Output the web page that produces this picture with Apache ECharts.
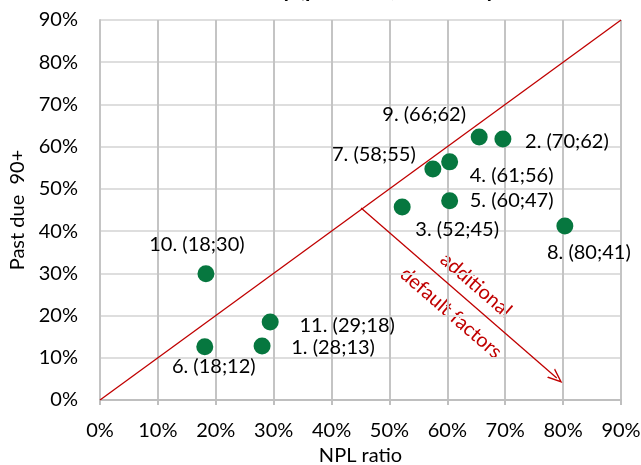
<!DOCTYPE html>
<html>
<head>
<meta charset="utf-8">
<script src="https://cdn.jsdelivr.net/npm/echarts@6/dist/echarts.min.js"></script>
<style>
  html, body { margin: 0; padding: 0; background: #fff; }
  #main { width: 641px; height: 465px; }
</style>
</head>
<body>
<div id="main"></div>
<script>
(function () {
  // bank points: NPL ratio (x, %) and past due 90+ (y, %)
  var banks = ['1', '2', '3', '4', '5', '6', '7', '8', '9', '10', '11'];
  var nplRatio = [28, 69.6, 52.2, 60.4, 60.4, 18.1, 57.5, 80.3, 65.5, 18.3, 29.4];
  var pastDue = [12.8, 61.8, 45.7, 56.4, 47.2, 12.6, 54.7, 41.2, 62.3, 29.9, 18.5];
  var pointLabels = ['(28;13)', '(70;62)', '(52;45)', '(61;56)', '(60;47)', '(18;12)',
    '(58;55)', '(80;41)', '(66;62)', '(18;30)', '(29;18)'];
  // label offset from point centre, px
  var labelOffsets = [[71, 2], [64, 2], [55, 23], [62, 14], [62, 0], [9, 20],
    [-59, -14], [24, 27], [-55, -22], [-9, -29], [77, 4]];

  var axisTicks = [0, 10, 20, 30, 40, 50, 60, 70, 80, 90];
  var diagonal = [[0, 0], [90, 90]];
  var arrowFrom = [45.1, 45.5];
  var arrowTo = [78.9, 5.2];

  var red = '#C00000';
  var font = 'Lato, "Open Sans", sans-serif';

  var pts = banks.map(function (b, i) {
    return {
      value: [nplRatio[i], pastDue[i]],
      label: {
        show: true,
        position: 'inside',
        offset: labelOffsets[i],
        formatter: b + '. ' + pointLabels[i]
      }
    };
  });

  var rot = -41 * Math.PI / 180;

  var myChart = echarts.init(document.getElementById('main'));
  var option = {
    animation: false,
    title: {
      // only the bottom of the title is inside the picture
      text: 'Banks overview by (per bank, end of a year',
      left: 105,
      top: -26,
      textStyle: { fontFamily: font, fontWeight: 'bold', fontSize: 22, color: '#000' }
    },
    grid: { left: 100, right: 20, top: 20, bottom: 65, outerBoundsMode: 'none' },
    xAxis: {
      type: 'value',
      min: axisTicks[0],
      max: axisTicks[axisTicks.length - 1],
      interval: 10,
      name: 'NPL ratio',
      nameLocation: 'middle',
      nameGap: 42,
      nameTextStyle: { fontFamily: font, fontSize: 20, color: '#000' },
      axisLine: { lineStyle: { color: '#bfbfbf', width: 2 } },
      axisTick: { show: true, length: 5, lineStyle: { color: '#bfbfbf', width: 2 } },
      axisLabel: { formatter: '{value}%', fontFamily: font, fontSize: 20, color: '#000', margin: 21 },
      splitLine: { lineStyle: { color: '#c4c4c4', width: 2 } }
    },
    yAxis: {
      type: 'value',
      min: axisTicks[0],
      max: axisTicks[axisTicks.length - 1],
      interval: 10,
      name: 'Past due  90+',
      nameLocation: 'middle',
      nameGap: 72,
      nameTextStyle: { fontFamily: font, fontSize: 20, color: '#000' },
      axisLine: { show: true, lineStyle: { color: '#c4c4c4', width: 2 } },
      axisTick: { show: false },
      axisLabel: { formatter: '{value}%', fontFamily: font, fontSize: 20, color: '#000', margin: 22 },
      splitLine: { lineStyle: { color: '#dedede', width: 2 } }
    },
    series: [
      {
        type: 'line',
        data: diagonal,
        symbol: 'none',
        lineStyle: { color: red, width: 1.3 },
        silent: true,
        z: 1,
        markLine: {
          silent: true,
          symbol: ['none', 'path://M0,12 L6,0 L12,12 L10.6,12 L6,3 L1.4,12 Z'],
          symbolSize: [12, 15],
          label: { show: false },
          lineStyle: { color: red, width: 1.3, type: 'solid' },
          data: [[{ coord: arrowFrom }, { coord: arrowTo }]]
        }
      },
      {
        type: 'scatter',
        data: pts,
        symbolSize: 17,
        itemStyle: { color: '#06773F', opacity: 1 },
        label: { fontFamily: font, fontSize: 20, color: '#000' },
        z: 3
      }
    ],
    graphic: [
      {
        type: 'text',
        x: 476,
        y: 285,
        rotation: rot,
        style: {
          text: 'additional',
          align: 'center',
          verticalAlign: 'middle',
          fill: red,
          fontFamily: font,
          fontSize: 20
        }
      },
      {
        type: 'text',
        x: 451,
        y: 313,
        rotation: rot,
        style: {
          text: 'default factors',
          align: 'center',
          verticalAlign: 'middle',
          fill: red,
          fontFamily: font,
          fontSize: 20
        }
      }
    ]
  };
  myChart.setOption(option);
  window.addEventListener('resize', function () {
    myChart.resize();
  });
})();
</script>
</body>
</html>
